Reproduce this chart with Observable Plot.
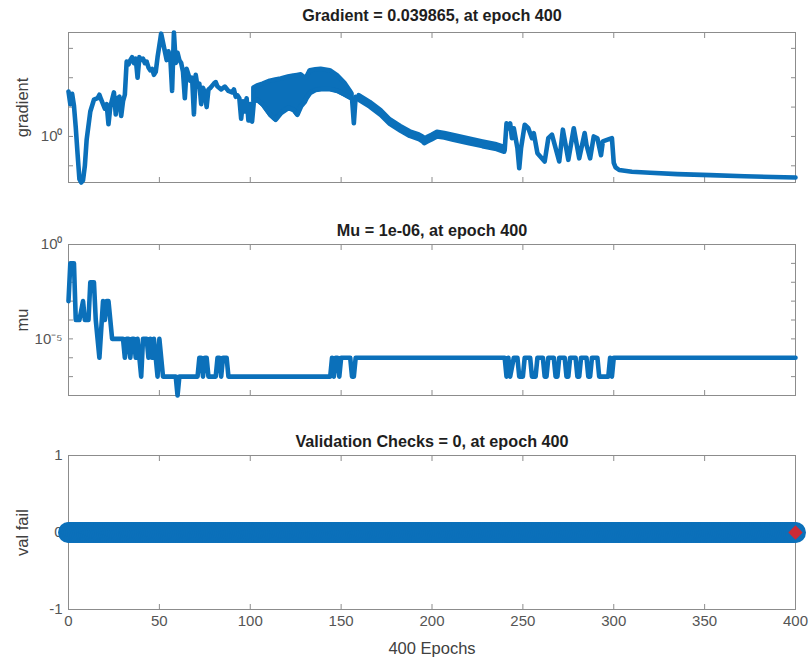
<!DOCTYPE html>
<html>
<head>
<meta charset="utf-8">
<script src="https://cdn.jsdelivr.net/npm/d3@7"></script>
<script src="https://cdn.jsdelivr.net/npm/@observablehq/plot@0.6"></script>
<style>
  html, body { margin: 0; padding: 0; background: #ffffff; }
  #chart { width: 811px; }
  #chart svg { display: block; }
</style>
</head>
<body>
<div id="chart"></div>
<script>
// ---------------- data ----------------
const xTicks = [0, 50, 100, 150, 200, 250, 300, 350, 400];

const titles = [
  "Gradient = 0.039865, at epoch 400",
  "Mu = 1e-06, at epoch 400",
  "Validation Checks = 0, at epoch 400"
];
const yLabels = ["gradient", "mu", "val fail"];
const xLabel = "400 Epochs";

// gradient (epoch, value)
const gradientPoints = [
  [0,33.9],[1,12.6],[2,28.2],[3,11.2],[4,2.0],[5,0.25],[6,0.035],[7,0.027],[8,0.032],[9,0.10],
  [10,0.79],[12,7.1],[14,17.8],[16,20],[17,26.3],[18,17.8],[20,8.9],[21,12.6],[22,2.6],[23,10],
  [25,31.6],[26,5.6],[27,20],[28,22.4],[29,5.0],[30,15.8],[31,26.3],[32,355],[33,282],[34,398],
  [35,501],[36,316],[37,447],[38,100],[39,501],[40,398],[41,447],[42,316],[43,355],[44,224],
  [45,178],[46,200],[47,126],[48,158],[49,501],[50,1259],[51,3162],[52,1585],[53,794],[54,398],
  [55,794],[56,501],[57,35.5],[58,3470],[59,316],[60,708],[61,398],[62,316],[63,158],[64,20],
  [65,200],[66,126],[67,79],[68,100],[69,5.6],[70,126],[71,50],[72,63],[73,12.6],[74,45],
  [75,31.6],[76,10],[77,40],[78,45],[80,63],[81,71],[82,50],[84,40],[86,50],[88,35.5],
  [90,31.6],[91,40],[92,22.4],[93,25],[94,20],[95,4.0],[96,15.8],[97,7.1],[98,20],[99,3.5],
  [100,12.6],[101,3.2],[102,15.8],[104,17.4],[107,12.0],[111,5.5],[114,3.7],[117,6.3],[121,9.3],[124,7.9],
  [126,5.5],[128,10.7],[130,14.8],[131,20.0],[133,30.2],[136,38.0],[139,40.7],[144,40.7],[148,35.5],[152,26.3],
  [155,20.9],[156,19.5],[157,2.8],[158,22.4],[160,20.4],[166,12.0],[172,6.3],[177,3.1],[183,1.8],[188,1.2],
  [193,0.93],[195,0.79],[196,0.68],[198,0.79],[200,0.91],[203,1.15],[207,1.05],[212,0.89],[220,0.69],[228,0.54],
  [235,0.44],[240,0.35],[241,2.8],[242,1.9],[243,2.8],[244,0.87],[245,1.9],[247,0.40],[248,0.083],[249,0.40],
  [251,2.5],[253,1.9],[255,0.87],[256,1.3],[258,0.27],[262,0.14],[264,0.87],[266,1.15],[270,0.14],[272,1.7],
  [275,0.16],[278,1.9],[281,0.18],[284,1.3],[285,0.52],[287,0.18],[289,1.0],[291,0.87],[293,0.23],[294,0.68],
  [297,0.79],[299,0.87],[300,0.126],[301,0.089],[303,0.072],[310,0.063],[320,0.058],[335,0.052],[353,0.048],[372,0.044],
  [400,0.039865]
];

// dense oscillation envelope (epoch, low, high)
const gradientDense = [
  [102,15.8,44.7],[104,17.4,52.5],[107,12.0,60.3],[111,5.5,75.9],[114,3.7,83.2],
  [117,6.3,91.2],[121,9.3,105],[124,7.9,115],[126,5.5,120],[128,10.7,126],
  [130,14.8,100],[131,20.0,100],[133,30.2,174],[136,38.0,186],[139,40.7,195],
  [144,40.7,174],[148,35.5,117],[152,26.3,66.1],[155,20.9,35.5],[156,19.5,28.2]
];

// narrow oscillation band (epoch, low, high)
const gradientBand = [
  [160,17.0,24.5],[166,10.0,14.4],[172,5.25,7.6],[177,2.6,3.7],[183,1.5,2.16],
  [188,1.0,1.44],[193,0.78,1.12],[195,0.66,0.95],[196,0.57,0.82],[198,0.66,0.95],
  [200,0.76,1.09],[203,0.96,1.38],[207,0.88,1.26],[212,0.74,1.07],[220,0.58,0.83],
  [228,0.45,0.65],[235,0.37,0.53],[240,0.29,0.42]
];

const gradientTicks = [0.1, 1, 10, 100, 1000];

// mu (epoch, value)
const muPoints = [
  [0,1e-3],[1,1e-1],[3,1e-1],[4,1e-4],[6,1e-4],[8,1e-3],[9,1e-4],[11,1e-4],[12,1e-2],[14,1e-2],
  [15,1e-4],[17,1e-6],[19,1e-3],[20,1e-4],[21,1e-3],[22,1e-3],[23,1e-4],[24,1e-5],[30,1e-5],[31,1e-6],
  [32,1e-5],[33,1e-5],[34,1e-6],[35,1e-5],[36,1e-5],[37,1e-6],[38,1e-5],[40,1e-7],[41,1e-5],[43,1e-5],
  [44,1e-6],[45,1e-5],[46,1e-6],[47,1e-5],[49,1e-7],[50,1e-5],[52,1e-7],[59,1e-7],[60,1e-8],[61,1e-7],
  [71,1e-7],[72,1e-6],[73,1e-6],[74,1e-7],[75,1e-6],[76,1e-6],[77,1e-7],[81,1e-7],[82,1e-6],[83,1e-6],
  [84,1e-7],[85,1e-6],[87,1e-6],[88,1e-7],[144,1e-7],[145,1e-6],[146,1e-7],[147,1e-6],[148,1e-6],[149,1e-7],
  [150,1e-6],[155,1e-6],[156,1e-7],[157,1e-7],[158,1e-6],[240,1e-6],[241,1e-7],[242,1e-6],[243,1e-7],[245,1e-6],
  [247,1e-6],[248,1e-7],[250,1e-7],[251,1e-6],[254,1e-6],[255,1e-7],[257,1e-7],[258,1e-6],[261,1e-6],[262,1e-7],
  [263,1e-7],[264,1e-6],[267,1e-6],[268,1e-7],[269,1e-7],[270,1e-6],[273,1e-6],[274,1e-7],[275,1e-7],[276,1e-6],
  [279,1e-6],[280,1e-7],[281,1e-7],[282,1e-6],[285,1e-6],[286,1e-7],[287,1e-7],[288,1e-6],[291,1e-6],[292,1e-7],
  [297,1e-7],[298,1e-6],[299,1e-7],[300,1e-6],[400,1e-6]
];
const muDomain = [1e-8, 1];
const muTicks = [1e-8, 1e-7, 1e-6, 1e-5, 1e-4, 1e-3, 1e-2, 1e-1, 1];

// validation checks: run-length (from epoch, to epoch, value)
const valFailRuns = [[0, 400, 0]];
const valFinal = [[400, 0]];
const valTicks = [-1, 0, 1];

// ---------------- drawing ----------------
const FONT = '"Liberation Sans", Arial, Helvetica, sans-serif';
const BLUE = "#0b70ba";
const RED = "#cc2a36";
const FRAME = "#8c8c8c";
const TICKTXT = "#555555";
const LW = 4.6;

const valFail = valFailRuns.flatMap(([a, b, v]) => d3.range(a, b + 1).map(e => [e, v]));

function sup(d) {
  const m = {"-": "⁻", "0": "⁰", "1": "¹", "2": "²", "3": "³", "4": "⁴", "5": "⁵", "6": "⁶", "7": "⁷", "8": "⁸", "9": "⁹"};
  const e = Math.round(Math.log10(d));
  return "10" + String(e).split("").map(c => m[c]).join("");
}

function frameMarks(yTicks, yFormat, showX) {
  return [
    Plot.frame({stroke: FRAME, strokeWidth: 1}),
    Plot.axisX({anchor: "bottom", ticks: xTicks, tickSize: -5, tickPadding: 11, stroke: FRAME,
      tickFormat: showX ? (d => String(d)) : (() => ""), label: null, fill: TICKTXT, fontSize: 15}),
    Plot.axisX({anchor: "top", ticks: xTicks, tickSize: -5, tickFormat: () => "", label: null, stroke: FRAME}),
    Plot.axisY({anchor: "left", ticks: yTicks, tickSize: -5, tickPadding: 11, stroke: FRAME,
      tickFormat: yFormat, label: null, fill: TICKTXT, fontSize: 15}),
    Plot.axisY({anchor: "right", ticks: yTicks, tickSize: -5, tickFormat: () => "", label: null, stroke: FRAME})
  ];
}

function titleMark(t, dy) {
  return Plot.text([t], {frameAnchor: "top", dy, lineAnchor: "middle", textAnchor: "middle",
    fontSize: 16.2, fontWeight: "bold", fill: "#1e1e1e"});
}
function yLabelMark(t) {
  return Plot.text([t], {frameAnchor: "left", dx: -46, rotate: -90, textAnchor: "middle", lineAnchor: "middle",
    fontSize: 16.5, fill: "#404040"});
}

const base = {
  width: 811, marginLeft: 68, marginRight: 16,
  style: {fontFamily: FONT, fontSize: "15px", color: TICKTXT, background: "white", overflow: "visible"},
  x: {domain: [0, 400], label: null}
};

// panel 1: gradient
const gradExtent = d3.extent(gradientPoints, d => d[1]);
const p1 = Plot.plot({
  ...base, height: 200, marginTop: 32, marginBottom: 18,
  y: {type: "log", domain: gradExtent, label: null},
  marks: [
    ...frameMarks(gradientTicks, d => (d === 1 ? sup(d) : ""), false),
    Plot.areaY(gradientDense, {x: d => d[0], y1: d => d[1], y2: d => d[2], fill: BLUE, stroke: BLUE, strokeWidth: LW, strokeLinejoin: "round"}),
    Plot.areaY(gradientBand, {x: d => d[0], y1: d => d[1], y2: d => d[2], fill: BLUE, stroke: BLUE, strokeWidth: LW, strokeLinejoin: "round"}),
    Plot.line(gradientPoints, {x: d => d[0], y: d => d[1], stroke: BLUE, strokeWidth: LW, strokeLinejoin: "round", strokeLinecap: "round"}),
    titleMark(titles[0], -17),
    yLabelMark(yLabels[0])
  ]
});

// panel 2: mu
const p2 = Plot.plot({
  ...base, height: 212, marginTop: 44, marginBottom: 17,
  y: {type: "log", domain: muDomain, label: null},
  marks: [
    ...frameMarks(muTicks, d => (d === 1 || d === 1e-5 ? sup(d) : ""), false),
    Plot.line(muPoints, {x: d => d[0], y: d => d[1], stroke: BLUE, strokeWidth: LW, strokeLinejoin: "round", strokeLinecap: "round"}),
    titleMark(titles[1], -14),
    yLabelMark(yLabels[1])
  ]
});

// panel 3: validation checks
const p3 = Plot.plot({
  ...base, height: 250, marginTop: 43, marginBottom: 53,
  y: {domain: [-1, 1], label: null},
  marks: [
    ...frameMarks(valTicks, d => String(d), true),
    Plot.line(valFail, {x: d => d[0], y: d => d[1], stroke: BLUE, strokeWidth: 2}),
    Plot.dot(valFail, {x: d => d[0], y: d => d[1], r: 10.5, fill: BLUE, stroke: null}),
    Plot.dot(valFinal, {x: d => d[0], y: d => d[1], symbol: "diamond2", r: 6.5, fill: RED, stroke: null}),
    titleMark(titles[2], -14),
    yLabelMark(yLabels[2]),
    Plot.text([xLabel], {frameAnchor: "bottom", dy: 39, lineAnchor: "middle", textAnchor: "middle", fontSize: 16.5, fill: "#404040"})
  ]
});

const chart = document.getElementById("chart");
chart.append(p1, p2, p3);
</script>
</body>
</html>
